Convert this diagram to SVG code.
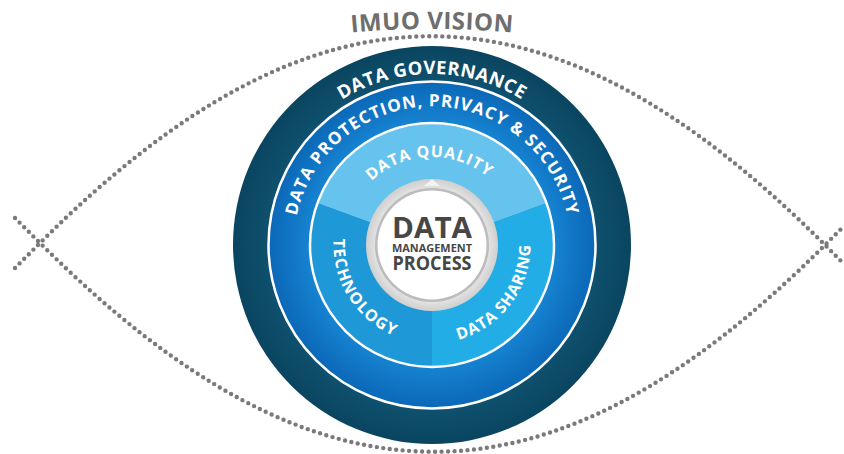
<svg xmlns="http://www.w3.org/2000/svg" width="844" height="454" viewBox="0 0 844 454">
  <style>
    .dots { fill: none; stroke: #7a7a7a; stroke-width: 4.4; stroke-linecap: round; stroke-dasharray: 0 6.5; }
    .arc { font-family: "Open Sans", "Liberation Sans", sans-serif; font-weight: 700; fill: #ffffff; }
    .ctr { font-family: "Open Sans", "Liberation Sans", sans-serif; font-weight: 700; fill: #464646; text-anchor: middle; }
    .sep { fill: none; stroke: #ffffff; stroke-width: 2.5; }
  </style>
  <defs>
    <radialGradient id="gDark" cx="432" cy="245" r="199" gradientUnits="userSpaceOnUse">
      <stop offset="0.8" stop-color="#0f5270"/>
      <stop offset="1" stop-color="#0a4560"/>
    </radialGradient>
    <radialGradient id="gBlue" cx="432" cy="245" r="163" gradientUnits="userSpaceOnUse">
      <stop offset="0.74" stop-color="#1684d2"/>
      <stop offset="1" stop-color="#0b68b7"/>
    </radialGradient>
    <radialGradient id="gGray" cx="432" cy="245" r="66" gradientUnits="userSpaceOnUse">
      <stop offset="0.85" stop-color="#e4e4e4"/>
      <stop offset="1" stop-color="#cfcfcf"/>
    </radialGradient>
    <path id="pTitle" d="M300,38.73 A900,900 0 0 1 564,38.73"/>
    <path id="pGov" d="M263.60,215.31 A171,171 0 0 1 600.40,215.31"/>
    <path id="pProt" d="M294.03,257.07 A138.5,138.5 0 1 1 569.97,257.07"/>
    <path id="pQual" d="M348.31,217.81 A88,88 0 0 1 513.59,212.03"/>
    <path id="pTech" d="M345.03,198.76 A98.5,98.5 0 0 0 435.44,343.44"/>
    <path id="pShare" d="M420.00,342.77 A98.5,98.5 0 0 0 522.67,206.51"/>
  </defs>

  <g id="eye-outline">
    <path class="dots" d="M15,268 L40,243 C317,-34 548,-32 825,245 L843,263"/>
    <path class="dots" d="M15,218 L40,243 C317,520 548,522 825,245 L843,227"/>
  </g>

  <g id="title">
    <text font-family="'Open Sans', 'Liberation Sans', sans-serif" font-weight="700" font-size="24" fill="#6e6e6e" letter-spacing="0.4">
      <textPath href="#pTitle" startOffset="50%" text-anchor="middle">IMUO VISION</textPath>
    </text>
  </g>

  <g id="ring-governance">
    <circle cx="432" cy="245" r="199" fill="url(#gDark)"/>
    <text class="arc" font-size="18.5" letter-spacing="0.5">
      <textPath href="#pGov" startOffset="50%" text-anchor="middle">DATA GOVERNANCE</textPath>
    </text>
  </g>

  <g id="ring-protection">
    <circle cx="432" cy="245" r="163" fill="url(#gBlue)"/>
    <circle class="sep" cx="432" cy="245" r="163.5"/>
    <text class="arc" font-size="17" letter-spacing="1">
      <textPath href="#pProt" startOffset="50%" text-anchor="middle">DATA PROTECTION, PRIVACY &amp; SECURITY</textPath>
    </text>
  </g>

  <g id="seg-quality">
    <path d="M432,245 L318.30,203.62 A121,121 0 0 1 545.70,203.62 Z" fill="#66c3ed"/>
    <text class="arc" font-size="16" letter-spacing="0.9">
      <textPath href="#pQual" startOffset="50%" text-anchor="middle">DATA QUALITY</textPath>
    </text>
  </g>

  <g id="seg-sharing">
    <path d="M432,245 L545.70,203.62 A121,121 0 0 1 432,366 Z" fill="#22ade6"/>
    <text class="arc" font-size="16" letter-spacing="0.7">
      <textPath href="#pShare" startOffset="50%" text-anchor="middle">DATA SHARING</textPath>
    </text>
  </g>

  <g id="seg-technology">
    <path d="M432,245 L432,366 A121,121 0 0 1 318.30,203.62 Z" fill="#1e98d6"/>
    <text class="arc" font-size="16" letter-spacing="1.3">
      <textPath href="#pTech" startOffset="50%" text-anchor="middle">TECHNOLOGY</textPath>
    </text>
  </g>

  <circle class="sep" cx="432" cy="245" r="122"/>

  <g id="center-process">
    <circle cx="432" cy="245" r="66" fill="url(#gGray)"/>
    <polygon points="424,186 432,179 440,186" fill="#f2f2f2"/>
    <circle cx="432" cy="245" r="57" fill="#bcbcbc"/>
    <circle cx="432" cy="245" r="54.5" fill="#ffffff"/>
    <text class="ctr" x="432" y="238" font-size="28.5" textLength="80" lengthAdjust="spacingAndGlyphs">DATA</text>
    <text class="ctr" x="432" y="252" font-size="10.5" textLength="80" lengthAdjust="spacingAndGlyphs">MANAGEMENT</text>
    <text class="ctr" x="432" y="270" font-size="20" textLength="79" lengthAdjust="spacingAndGlyphs">PROCESS</text>
  </g>
</svg>
